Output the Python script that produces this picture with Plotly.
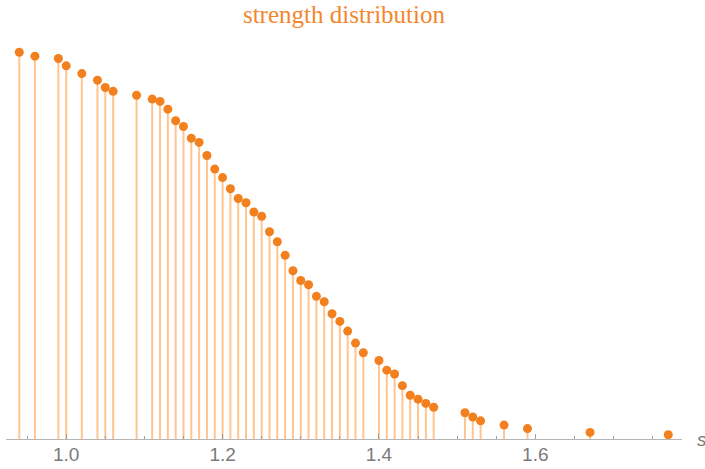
import plotly.graph_objects as go

# data
s_values = [0.94, 0.96, 0.99, 1.00, 1.02, 1.04, 1.05, 1.06, 1.09, 1.11,
            1.12, 1.13, 1.14, 1.15, 1.16, 1.17, 1.18, 1.19, 1.20, 1.21,
            1.22, 1.23, 1.24, 1.25, 1.26, 1.27, 1.28, 1.29, 1.30, 1.31,
            1.32, 1.33, 1.34, 1.35, 1.36, 1.37, 1.38, 1.40, 1.41, 1.42,
            1.43, 1.44, 1.45, 1.46, 1.47, 1.51, 1.52, 1.53, 1.56, 1.59,
            1.67, 1.77]
prob_values = [1.000, 0.990, 0.984, 0.965, 0.945, 0.928, 0.909, 0.899, 0.889, 0.879,
               0.873, 0.853, 0.823, 0.808, 0.778, 0.767, 0.733, 0.698, 0.676, 0.647,
               0.622, 0.611, 0.587, 0.576, 0.536, 0.510, 0.475, 0.435, 0.410, 0.399,
               0.369, 0.355, 0.324, 0.304, 0.279, 0.248, 0.223, 0.203, 0.178, 0.168,
               0.138, 0.113, 0.103, 0.092, 0.082, 0.068, 0.057, 0.047, 0.036, 0.027,
               0.017, 0.011]
tick_values = [1.0, 1.2, 1.4, 1.6]
tick_labels = ["1.0", "1.2", "1.4", "1.6"]

stem_x, stem_y = [], []
for sx, py in zip(s_values, prob_values):
    stem_x += [sx, sx, None]
    stem_y += [0, py, None]

fig = go.Figure()
fig.add_trace(go.Scatter(x=stem_x, y=stem_y, mode="lines",
                         line=dict(color="#FFC48F", width=2),
                         hoverinfo="skip", showlegend=False))
fig.add_trace(go.Scatter(x=s_values, y=prob_values, mode="markers",
                         marker=dict(color="#F2801E", size=9),
                         cliponaxis=False, showlegend=False))

fig.update_layout(
    width=705, height=469,
    margin=dict(l=6, r=23, t=40, b=30, autoexpand=False),
    paper_bgcolor="white", plot_bgcolor="white",
    title=dict(text="strength distribution", x=0.4879, xanchor="center",
               xref="container", yref="container",
               y=0.970, yanchor="middle",
               font=dict(family="Liberation Serif", size=25, color="#F4862E")),
    xaxis=dict(range=[0.9230, 1.7876], showgrid=False, zeroline=False,
               automargin=False,
               showline=True, linecolor="#B5B5B5", linewidth=1,
               tickmode="array", tickvals=tick_values, ticktext=tick_labels,
               ticks="inside", ticklen=5, tickcolor="#A0A0A0", tickwidth=1,
               ticklabelstandoff=-2,
               tickfont=dict(family="Liberation Sans", size=19, color="#7A7A7A"),
               minor=dict(dtick=0.05, tick0=0, ticks="inside", ticklen=3,
                          tickcolor="#A0A0A0", showgrid=False)),
    yaxis=dict(range=[0, 1.0318], visible=False, showgrid=False, zeroline=False,
               automargin=False),
    annotations=[dict(text="<i>s</i>", xref="paper", x=1, xanchor="left", xshift=13,
                      yref="y", y=0, yanchor="middle", showarrow=False,
                      font=dict(family="Liberation Sans", size=19, color="#7A7A7A"))],
)

fig.write_html("out.html", config={"displayModeBar": False},
               post_script="document.body.style.margin='0px';")
